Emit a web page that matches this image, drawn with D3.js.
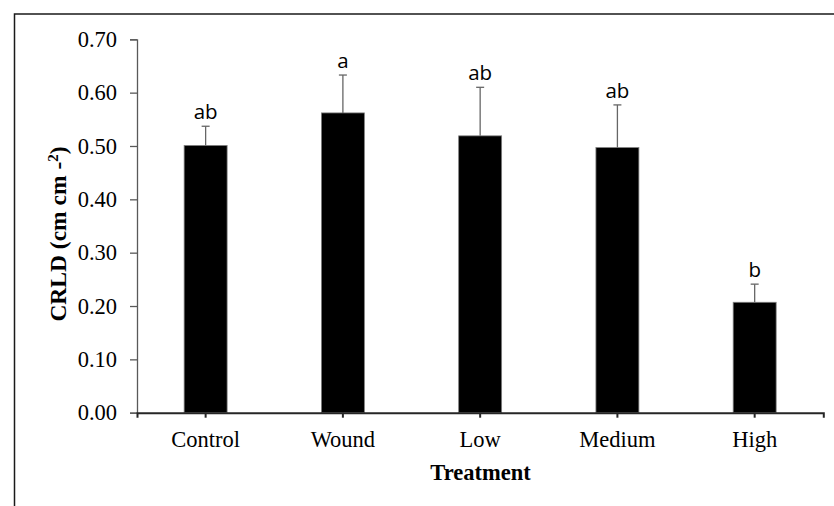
<!DOCTYPE html>
<html><head><meta charset="utf-8">
<script src="https://cdn.jsdelivr.net/npm/d3@7"></script>
<style>body{margin:0;background:#fff}svg{display:block}</style>
</head><body>
<svg id="c" width="834" height="506"></svg>
<script>
const categories = ["Control","Wound","Low","Medium","High"];
const means = [0.501, 0.562, 0.519, 0.497, 0.207];
const errTops = [0.537, 0.633, 0.610, 0.577, 0.241];
const letters = ["ab","a","ab","ab","b"];
const yTicks = [0,0.1,0.2,0.3,0.4,0.5,0.6,0.7];

const svg = d3.select("#c");
const W=834,H=506;
svg.append("rect").attr("x",0).attr("y",0).attr("width",W).attr("height",H).attr("fill","#fff");
// outer frame (right & bottom are cropped)
svg.append("path").attr("d","M14.5,506 L14.5,14 L834,14").attr("fill","none").attr("stroke","#1a1a1a").attr("stroke-width",1.5);

const m={left:137,right:823.3,top:39.3,bottom:412.7};
const x=d3.scaleBand().domain(categories).range([m.left,m.right]).paddingInner(0.687).paddingOuter(0.3435);
const y=d3.scaleLinear().domain([0,0.7]).range([m.bottom,m.top]);

// bars
svg.selectAll("rect.bar").data(categories).join("rect").attr("class","bar")
  .attr("x",d=>x(d)).attr("width",x.bandwidth())
  .attr("y",(d,i)=>y(means[i])).attr("height",(d,i)=>y(0)-y(means[i]))
  .attr("fill","#000").attr("stroke","#7f7f7f").attr("stroke-width",0.8);

// error bars
const cx=d=>x(d)+x.bandwidth()/2;
svg.selectAll("line.err").data(categories).join("line").attr("class","err")
  .attr("x1",cx).attr("x2",cx).attr("y1",(d,i)=>y(means[i])).attr("y2",(d,i)=>y(errTops[i]))
  .attr("stroke","#666").attr("stroke-width",1.3);
svg.selectAll("line.cap").data(categories).join("line").attr("class","cap")
  .attr("x1",d=>cx(d)-4).attr("x2",d=>cx(d)+4).attr("y1",(d,i)=>y(errTops[i])).attr("y2",(d,i)=>y(errTops[i]))
  .attr("stroke","#666").attr("stroke-width",1.3);
svg.selectAll("text.lt").data(categories).join("text").attr("class","lt")
  .attr("x",cx).attr("y",(d,i)=>y(errTops[i])-7).attr("text-anchor","middle")
  .attr("font-family","Open Sans").attr("font-size",20.5).attr("fill","#000")
  .text((d,i)=>letters[i]);

// y axis
const ya=svg.append("g").attr("transform",`translate(${m.left},0)`)
  .call(d3.axisLeft(y).tickValues(yTicks).tickFormat(d3.format(".2f")).tickSize(7).tickPadding(13));
ya.select(".domain").attr("stroke","#595959").attr("stroke-width",1.3);
ya.selectAll(".tick line").attr("stroke","#595959").attr("stroke-width",1.3);
ya.selectAll("text").attr("font-family","Liberation Serif").attr("font-size",22.5).attr("fill","#000");

// x axis
const xa=svg.append("g").attr("transform",`translate(0,${m.bottom})`)
  .call(d3.axisBottom(x).tickSizeInner(5).tickSizeOuter(5).tickPadding(13));
xa.select(".domain").attr("stroke","#262626").attr("stroke-width",2);
xa.selectAll(".tick line").attr("stroke","#262626").attr("stroke-width",2);
xa.selectAll("text").attr("font-family","Liberation Serif").attr("font-size",22.5).attr("fill","#000");

// titles
svg.append("text").attr("x",480.5).attr("y",480).attr("text-anchor","middle")
  .attr("font-family","Liberation Serif").attr("font-weight","bold").attr("font-size",22.5).text("Treatment");
const yt=svg.append("text").attr("transform","translate(66,234) rotate(-90)").attr("text-anchor","middle")
  .attr("font-family","Liberation Serif").attr("font-weight","bold").attr("font-size",23.5);
yt.append("tspan").text("CRLD (cm cm -");
yt.append("tspan").attr("dy",-8).attr("font-size",15).text("2");
yt.append("tspan").attr("dy",8).text(")");
</script>
</body></html>
